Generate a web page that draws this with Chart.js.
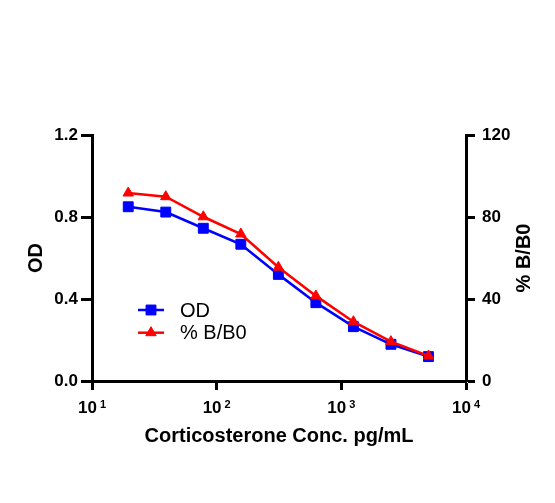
<!DOCTYPE html>
<html>
<head>
<meta charset="utf-8">
<script src="https://cdn.jsdelivr.net/npm/chart.js@4.4.1/dist/chart.umd.min.js"></script>
<style>
  html, body { margin: 0; padding: 0; background: #fff; }
  #wrap { width: 555px; height: 503px; position: relative; }
</style>
</head>
<body>
<div id="wrap"><canvas id="c"></canvas></div>
<script>
// ---- data ----
const concentrations = [19.53, 39.06, 78.13, 156.25, 312.5, 625, 1250, 2500, 5000];
const odValues   = [0.850, 0.824, 0.745, 0.667, 0.520, 0.382, 0.265, 0.179, 0.119];
const bb0Values  = [91.7, 89.9, 80.1, 71.7, 55.5, 41.5, 28.9, 19.2, 12.2];
const xTickValues = [10, 100, 1000, 10000];
const xTickBases = ['10', '10', '10', '10'];
const xTickExponents = ['1', '2', '3', '4'];
const yTickLabels = ['0.0', '0.4', '0.8', '1.2'];
const y2TickLabels = ['0', '40', '80', '120'];
const seriesNames = ['OD', '% B/B0'];
const xTitle = 'Corticosterone Conc. pg/mL';
const yTitle = 'OD';
const y2Title = '% B/B0';

const FONT = '"Liberation Sans", Arial, Helvetica, sans-serif';
const BLUE = '#0000FF';
const RED = '#FF0000';

const odPoints = concentrations.map((c, i) => ({ x: c, y: odValues[i] }));
const bbPoints = concentrations.map((c, i) => ({ x: c, y: bb0Values[i] }));

function drawMarker(ctx, style, x, y, r, color) {
  ctx.save();
  ctx.fillStyle = color;
  ctx.strokeStyle = color;
  ctx.lineWidth = 1;
  ctx.beginPath();
  if (style === 'rect') {
    const s = Math.SQRT1_2 * r;
    ctx.rect(x - s, y - s, 2 * s, 2 * s);
  } else {
    const w = r * Math.sin(Math.PI / 3);
    ctx.moveTo(x, y - r);
    ctx.lineTo(x + w, y + r / 2);
    ctx.lineTo(x - w, y + r / 2);
    ctx.closePath();
  }
  ctx.fill();
  ctx.stroke();
  ctx.restore();
}

const annot = {
  id: 'annot',
  afterDraw(chart) {
    const ctx = chart.ctx;
    const ca = chart.chartArea;
    const midY = (ca.top + ca.bottom) / 2;
    ctx.save();
    ctx.fillStyle = '#000';

    // x tick labels: base with superscript exponent
    const xs = chart.scales.x;
    const baseFont = 'bold 17px ' + FONT;
    const expFont = 'bold 11px ' + FONT;
    ctx.textBaseline = 'alphabetic';
    ctx.textAlign = 'left';
    xTickValues.forEach((v, i) => {
      const px = xs.getPixelForValue(v);
      ctx.font = baseFont;
      const bw = ctx.measureText(xTickBases[i]).width;
      ctx.font = expFont;
      const ew = ctx.measureText(xTickExponents[i]).width;
      const gap = 3;
      const start = px - (bw + gap + ew) / 2;
      const baseY = ca.bottom + 31.5;
      ctx.font = baseFont;
      ctx.fillText(xTickBases[i], start, baseY);
      ctx.font = expFont;
      ctx.fillText(xTickExponents[i], start + bw + gap, baseY - 4.5);
    });

    ctx.font = 'bold 20px ' + FONT;
    ctx.textAlign = 'center';
    ctx.textBaseline = 'alphabetic';
    ctx.fillText(xTitle, (ca.left + ca.right) / 2, ca.bottom + 60.5);

    ctx.save();
    ctx.translate(ca.left - 50.5, midY);
    ctx.rotate(-Math.PI / 2);
    ctx.fillText(yTitle, 0, 0);
    ctx.restore();

    ctx.save();
    ctx.translate(ca.right + 64, midY);
    ctx.rotate(-Math.PI / 2);
    ctx.fillText(y2Title, 0, 0);
    ctx.restore();

    // legend
    const rows = [
      { name: seriesNames[0], color: BLUE, style: 'rect', r: 7 },
      { name: seriesNames[1], color: RED, style: 'triangle', r: 6 }
    ];
    const lx0 = ca.left + 46, lx1 = ca.left + 72, lxm = ca.left + 59;
    rows.forEach((row, i) => {
      const ry = ca.top + 175 + i * 22.7;
      ctx.strokeStyle = row.color;
      ctx.lineWidth = 2.5;
      ctx.beginPath();
      ctx.moveTo(lx0, ry);
      ctx.lineTo(lx1, ry);
      ctx.stroke();
      drawMarker(ctx, row.style, lxm, ry, row.r, row.color);
      ctx.fillStyle = '#000';
      ctx.font = '20px ' + FONT;
      ctx.textAlign = 'left';
      ctx.textBaseline = 'middle';
      ctx.fillText(row.name, ca.left + 88, ry + 1);
    });
    ctx.restore();
  }
};

function axisStyle(len) {
  return {
    grid: { drawOnChartArea: false, drawTicks: true, tickLength: len, tickWidth: 3, tickColor: '#000' },
    border: { display: true, color: '#000', width: 3 }
  };
}

new Chart(document.getElementById('c'), {
  type: 'line',
  data: {
    datasets: [
      {
        label: seriesNames[0], data: odPoints, yAxisID: 'y', order: 1,
        borderColor: BLUE, backgroundColor: BLUE, borderWidth: 2.6,
        pointStyle: 'rect', pointRadius: 7, pointBorderWidth: 1, tension: 0
      },
      {
        label: seriesNames[1], data: bbPoints, yAxisID: 'y2', order: 0,
        borderColor: RED, backgroundColor: RED, borderWidth: 2.6,
        pointStyle: 'triangle', pointRadius: 6, pointBorderWidth: 1, tension: 0
      }
    ]
  },
  options: {
    responsive: true,
    maintainAspectRatio: false,
    animation: false,
    layout: { padding: { top: 135, left: 0, right: 0, bottom: 0 } },
    plugins: { legend: { display: false }, tooltip: { enabled: false } },
    scales: {
      x: {
        type: 'logarithmic', position: 'bottom', min: 10, max: 10000,
        ...axisStyle(9),
        afterBuildTicks(scale) { scale.ticks = xTickValues.map(v => ({ value: v })); },
        afterFit(scale) { scale.height = 122; },
        ticks: { display: false, autoSkip: false }
      },
      y: {
        type: 'linear', position: 'left', min: 0, max: 1.2,
        ...axisStyle(11),
        afterFit(scale) { scale.width = 92; },
        ticks: {
          color: '#000', padding: 3, stepSize: 0.4,
          font: { family: FONT, size: 17, weight: 'bold' },
          callback: (v) => yTickLabels[Math.round(v / 0.4)]
        }
      },
      y2: {
        type: 'linear', position: 'right', min: 0, max: 120,
        ...axisStyle(9),
        afterFit(scale) { scale.width = 89; },
        ticks: {
          color: '#000', padding: 7, stepSize: 40,
          font: { family: FONT, size: 17, weight: 'bold' },
          callback: (v) => y2TickLabels[Math.round(v / 40)]
        }
      }
    }
  },
  plugins: [annot]
});
</script>
</body>
</html>
